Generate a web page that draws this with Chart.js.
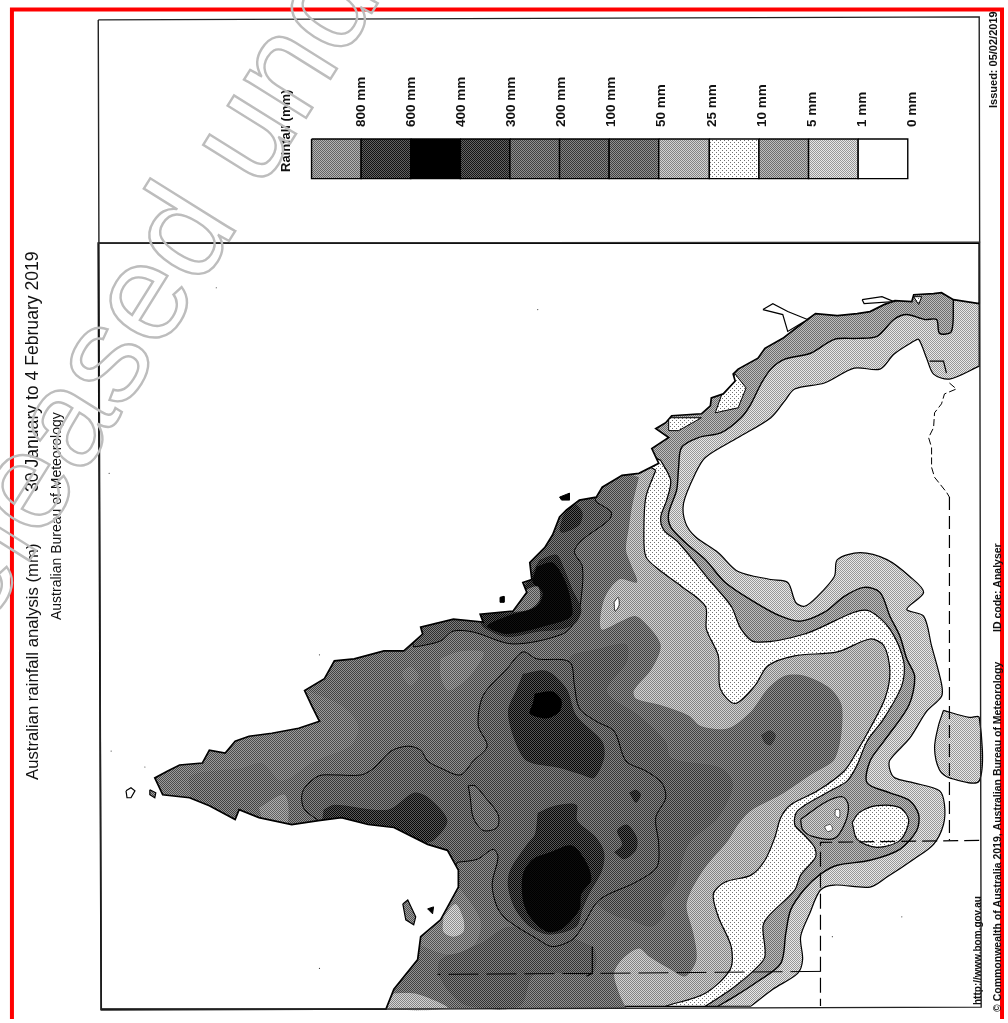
<!DOCTYPE html>
<html>
<head>
<meta charset="utf-8">
<title>Australian rainfall analysis</title>
<style>
  html, body { margin: 0; padding: 0; background: #fff; }
  canvas { display: block; }
</style>
<script src="https://cdn.jsdelivr.net/npm/chart.js@4"></script>
</head>
<body>
<canvas id="rainMap" width="1008" height="1023"></canvas>
<script>
// legend
const legendTicks = ['800 mm', '600 mm', '400 mm', '300 mm', '200 mm', '100 mm', '50 mm', '25 mm', '10 mm', '5 mm', '1 mm', '0 mm'];
const legendEdges = [310, 360, 410, 460, 510, 560, 610, 660, 711, 761, 811, 861, 911];
const legendGreys = [140, 58, 0, 60, 104, 94, 106, 172, 236, 149, 192, 255];

// coastline, read clockwise from the top right of the map
const coast = [[983,302],[970,300],[957,298],[945,291],[937,292],[917,293],[915,300],[898,299],[887,303],[873,310],[860,312],[840,314],[818,312],[807,320],[785,337],[767,347],[760,357],[740,368],[735,373],[737,380],[725,393],[713,397],[712,405],[703,413],[673,415],[667,422],[657,428],[670,437],[653,448],[660,463],[640,473],[623,475],[603,487],[597,497],[580,500],[567,510],[560,517],[553,535],[545,548],[530,563],[532,580],[523,583],[527,593],[513,612],[480,615],[483,623],[453,620],[420,628],[422,635],[403,652],[383,652],[353,660],[333,662],[323,680],[303,692],[310,707],[318,723],[297,730],[270,735],[247,738],[233,743],[223,755],[207,752],[200,765],[177,767],[165,773],[152,780],[160,797],[187,800],[207,808],[233,822],[237,812],[257,820],[290,827],[317,823],[340,820],[367,827],[393,830],[427,847],[447,853],[458,873],[458,890],[440,923],[420,940],[417,963],[393,993],[385,1013]];

// rainfall contours, outermost first
const edge1mm = [[753,1010],[775,993],[800,977],[805,963],[803,940],[812,917],[823,893],[837,888],[873,890],[890,880],[917,862],[937,847],[947,827],[948,807],[943,793],[917,785],[898,780],[893,772],[893,762],[913,740],[930,713],[945,698],[945,685],[935,647],[927,617],[910,610],[927,593],[913,577],[890,560],[863,553],[840,560],[837,577],[820,597],[807,607],[798,603],[790,583],[773,580],[740,572],[720,553],[697,537],[687,523],[685,503],[697,473],[707,457],[740,437],[773,417],[787,400],[797,388],[827,382],[857,367],[883,368],[897,353],[917,340],[922,338],[930,357],[937,373],[953,378],[983,365]];
const patch1mm = [[947,712],[973,719],[983,719],[983,783],[953,780],[943,772],[938,750],[942,727]];
const edge5mm = [[957,300],[955,330],[943,332],[940,318],[928,318],[910,313],[897,318],[880,335],[860,337],[837,338],[813,352],[787,358],[773,368],[763,383],[753,403],[743,417],[723,432],[700,437],[683,447],[680,467],[678,490],[670,513],[672,527],[687,543],[707,560],[727,583],[757,603],[783,617],[803,622],[827,613],[847,597],[867,588],[883,593],[893,617],[903,637],[910,660],[918,678],[912,707],[887,743],[873,763],[870,785],[893,795],[913,803],[922,817],[920,833],[903,852],[873,863],[840,868],[823,877],[807,892],[793,913],[788,937],[783,967],[760,985],[737,1000],[720,1010]];
const edge10mm = [[662,460],[672,480],[668,500],[662,517],[665,530],[680,543],[713,583],[733,607],[743,630],[757,643],[807,635],[857,613],[873,612],[893,630],[907,663],[905,687],[887,720],[870,743],[860,767],[850,783],[833,793],[800,813],[797,827],[807,838],[817,850],[818,860],[803,878],[797,893],[770,920],[765,930],[767,960],[757,973],[733,993],[707,1010]];
const edge25mm = [[657,470],[647,497],[645,533],[647,557],[660,570],[683,587],[707,607],[708,630],[720,657],[722,690],[737,705],[757,687],[770,667],[797,657],[840,653],[873,640],[887,647],[893,673],[888,700],[873,730],[860,753],[847,773],[820,793],[793,807],[783,820],[777,840],[767,863],[753,878],[727,885],[715,897],[720,920],[733,950],[732,973],[707,997],[667,1010]];
const edge50mm = [[640,477],[633,507],[630,527],[627,550],[632,565],[638,583],[620,580],[605,600],[602,630],[620,623],[637,617],[652,630],[662,647],[653,670],[635,692],[637,700],[663,707],[690,717],[703,728],[730,730],[753,713],[770,690],[787,677],[807,677],[833,690],[845,710],[838,760],[813,777],[783,797],[753,813],[740,827],[730,843],[707,870],[693,893],[688,910],[695,937],[698,963],[687,980],[672,973],[650,960],[640,952],[623,963],[615,977],[620,997],[627,1012]];
const edge100mm = [[597,650],[627,645],[628,663],[608,693],[640,717],[667,743],[673,760],[723,770],[735,787],[720,820],[690,847],[677,887],[663,907],[667,917],[653,930],[630,923],[618,920],[597,905],[570,800],[570,660]];
const south100mm = [[437,977],[440,963],[480,947],[510,930],[593,950],[593,977],[535,978],[520,1010],[468,1010],[448,995]];
const north200mm = [[597,502],[612,512],[610,520],[583,540],[575,552],[583,567],[582,597],[577,620],[563,635],[513,645],[473,633],[453,632],[440,642],[420,647],[413,648]];
const central200mm = [[457,865],[477,862],[493,852],[498,860],[492,887],[497,910],[507,923],[537,942],[553,950],[573,943],[583,930],[600,903],[637,885],[658,870],[660,847],[657,820],[667,800],[663,785],[647,773],[627,763],[615,733],[597,723],[580,710],[575,687],[570,663],[537,660],[523,653],[507,670],[483,697],[478,727],[487,748],[473,763],[460,777],[440,770],[427,763],[420,752],[407,748],[390,753],[373,770],[360,777],[333,777],[317,778],[303,790],[300,800],[303,812],[320,825]];
const oval100mm = [[468,788],[475,788],[483,797],[498,817],[497,830],[483,833],[473,820],[470,800]];
const capePatch = [[300,690],[340,707],[357,727],[350,747],[313,763],[280,783],[260,765],[240,770],[188,778],[187,800],[160,810],[140,790],[170,700]];
const capeLight = [[257,810],[283,797],[285,827],[263,826]];
const northPatchA = [[440,660],[457,653],[483,653],[480,663],[467,680],[448,692],[440,677]];
const northPatchB = [[402,672],[410,668],[418,677],[410,687],[402,678]];
const westPatch = [[455,885],[480,923],[475,947],[450,958],[423,950],[410,940]];
const westLight = [[443,920],[455,907],[463,922],[463,935],[453,940],[443,935]];
const southLight = [[393,997],[417,998],[447,1012],[385,1012]];

// wettest cores
const coastal300mm = [[540,560],[557,555],[565,570],[573,590],[582,610],[577,623],[563,630],[537,633],[507,638],[483,628],[480,617],[490,612],[512,613],[527,583]];
const coastal600mm = [[537,567],[553,563],[565,580],[572,603],[572,617],[553,625],[507,635],[487,627],[507,617],[537,607],[543,593],[533,583]];
const coastalGap = [[512,613],[523,593],[538,587],[540,600],[530,610]];
const cape300mm = [[563,517],[573,503],[583,512],[580,525],[563,533],[560,530]];
const upper300mm = [[523,675],[547,672],[567,690],[577,717],[603,743],[605,760],[595,780],[583,777],[560,770],[527,763],[515,743],[508,713],[517,690]];
const upper600mm = [[535,695],[553,693],[562,702],[560,713],[547,720],[530,715],[533,705]];
const lower300mm = [[538,815],[555,808],[577,807],[578,823],[597,840],[605,855],[603,873],[590,897],[583,913],[577,930],[550,938],[530,930],[515,912],[508,890],[510,873],[527,847],[535,837]];
const lower600mm = [[550,855],[572,848],[587,865],[592,883],[582,897],[580,913],[563,932],[547,935],[530,920],[523,903],[523,877],[533,862]];
const west300mm = [[322,812],[333,807],[387,812],[413,795],[428,800],[447,823],[433,843],[420,845],[390,835],[367,830],[340,825],[322,826]];
const spotA = [[615,855],[623,847],[618,833],[628,827],[638,840],[637,853],[625,862]];
const spotB = [[630,795],[637,792],[642,797],[637,805]];
const spotC = [[763,737],[772,732],[778,737],[773,747],[767,745]];

// dry lobes in the south
const lobeRing = [[803,822],[827,805],[845,799],[851,807],[848,825],[837,841],[815,839],[805,832]];
const lobeDotA = [[838,812],[842,812],[842,820],[838,818]];
const lobeDotB = [[827,829],[833,827],[835,832],[830,834]];
const southOval = [[855,825],[862,815],[880,808],[903,810],[912,823],[903,843],[880,850],[860,842]];
const innerDot = [[615,603],[619,598],[620,606],[616,612]];

// pale pockets on the north coast
const pocketA = [[737,373],[748,387],[740,407],[717,412],[723,395]];
const pocketB = [[670,417],[703,417],[680,430],[670,430]];
const pocketC = [[917,295],[925,295],[922,303]];
const pocketD = [[790,323],[810,318],[797,328]];

// islands
const islandsOpen = [
  [[123,793],[128,790],[132,793],[128,800],[124,800]],
  [[765,308],[775,302],[790,310],[810,318],[790,330],[785,313]],
  [[865,298],[885,295],[897,300],[867,302]]
];
const islandsGrey = [
  [[147,792],[153,795],[152,800],[147,797]],
  [[402,907],[407,903],[415,920],[413,928],[405,923]]
];
const islandsDark = [
  [[500,598],[504,597],[504,603],[500,603]],
  [[560,497],[570,493],[570,500],[562,500]],
  [[427,912],[433,910],[432,917]]
];

// state borders
const borderNorth = [[953,382],[960,388],[948,393],[945,403],[938,412],[937,427],[932,437],[935,447],[935,467],[938,477],[950,492],[953,497]];
const borderEast = [[953,497],[953,843]];
const borderSouth = [[983,843],[823,845],[823,1010]];
const borderWest = [[823,975],[600,977],[437,978]];
const shireLines = [
  [[933,360],[947,360],[950,372]],
  [[593,950],[593,977],[587,980]]
];
const specks = [[214,286],[538,308],[106,473],[108,753],[142,769],[318,972],[318,656],[905,920],[835,940]];

// sheet furniture
const frame = [[95,16],[98,1014],[985,1011],[983,13],[95,16]];
const divider = [[95,241],[984,240]];
const sheetEdge = [[8,1023],[8,5.5],[1006,5.5],[1006,1023]];

const sheetTexts = [
  { text: 'Australian rainfall analysis (mm)', x: 38, y: 780, font: '16.7px "Liberation Sans"' },
  { text: '30 January to 4 February 2019', x: 38, y: 492, font: '17.6px "Liberation Sans"' },
  { text: 'Australian Bureau of Meteorology', x: 61, y: 620, font: '14px "Liberation Sans"' },
  { text: 'Rainfall (mm)', x: 290, y: 172, font: 'bold 13px "Liberation Sans"' },
  { text: 'http://www.bom.gov.au', x: 981, y: 1005, font: 'bold 10px "Liberation Sans"' },
  { text: '© Commonwealth of Australia 2019, Australian Bureau of Meteorology', x: 1001, y: 1012, font: 'bold 10.5px "Liberation Sans"' },
  { text: 'ID code: Analyser', x: 1001, y: 632, font: 'bold 10.5px "Liberation Sans"' },
  { text: 'Issued: 05/02/2019', x: 997, y: 108, font: 'bold 11px "Liberation Sans"' }
];

// Fill with a fine two tone weave, the scan is halftoned
function halftone(grey) {
  if (grey >= 255) return '#ffffff';
  if (grey <= 0) return '#000000';
  const cell = document.createElement('canvas');
  cell.width = 4;
  cell.height = 4;
  const c = cell.getContext('2d');
  if (grey > 215) {
    // nearly white levels are white with sparse dots
    c.fillStyle = '#ffffff';
    c.fillRect(0, 0, 4, 4);
    c.fillStyle = '#707070';
    c.fillRect(0, 0, 1, 1);
    c.fillRect(2, 2, 1, 1);
  } else {
    const spread = Math.min(40, grey);
    for (let i = 0; i < 16; i++) {
      const v = (i % 4 + Math.floor(i / 4)) % 2 ? grey + spread : grey - spread;
      c.fillStyle = 'rgb(' + v + ',' + v + ',' + v + ')';
      c.fillRect(i % 4, Math.floor(i / 4), 1, 1);
    }
  }
  return c.createPattern(cell, 'repeat');
}

function toPoints(list) {
  return list.map(p => ({ x: p[0], y: p[1] }));
}

// a contour closed through the sea: repeated corners keep the curve from swinging out
function throughSea(edge, corners) {
  const last = edge[edge.length - 1];
  return [...edge, last, ...corners.flatMap(p => [p, p]), edge[0]];
}

const datasets = [];

// one filled shape; later shapes paint over earlier ones
function addShape(list, grey, outline, smooth) {
  datasets.push({
    type: 'scatter',
    data: toPoints([...list, list[0]]),
    showLine: true,
    fill: 'shape',
    backgroundColor: halftone(grey),
    borderColor: '#000000',
    borderWidth: outline,
    tension: smooth ? 0.3 : 0,
    pointRadius: 0
  });
}

function addLine(list, width, colour, dash) {
  datasets.push({
    type: 'scatter',
    data: toPoints(list),
    showLine: true,
    fill: false,
    borderColor: colour,
    borderWidth: width,
    borderDash: dash || [],
    tension: 0,
    pointRadius: 0
  });
}

// bands close through the sea, the sea shape below hides that part
addShape(throughSea(edge1mm, [[983,302], [957,250], [100,250], [100,1012]]), 192, 1.2, true);
addShape(patch1mm, 192, 1.2, true);
addShape(throughSea(edge5mm, [[100,1012], [100,250], [957,250]]), 149, 1.4, true);
addShape(pocketA, 236, 1, false);
addShape(pocketB, 236, 1, false);
addShape(pocketC, 236, 1, false);
addShape(pocketD, 236, 1, false);
addShape(throughSea(edge10mm, [[100,1012], [100,450], [640,450]]), 236, 1.2, true);
addShape(throughSea(edge25mm, [[100,1012], [100,460], [640,460]]), 172, 1.2, true);
addShape(throughSea(edge50mm, [[100,1012], [100,470], [620,470]]), 106, 0, true);
addShape(edge100mm, 92, 0, true);
addShape(south100mm, 90, 0, true);
addShape(capePatch, 116, 0, true);
addShape(capeLight, 136, 0, true);
addShape(northPatchA, 124, 0, true);
addShape(northPatchB, 118, 0, true);
addShape(westPatch, 122, 0, true);
addShape(westLight, 182, 0, true);
addShape(southLight, 172, 0, true);
addShape(throughSea(north200mm, [[400,600], [590,480]]), 86, 1, true);
addShape(throughSea(central200mm, [[320,860], [440,900]]), 94, 1, true);
addShape(oval100mm, 106, 1, true);
addShape(coastal300mm, 44, 0, true);
addShape(coastal600mm, 8, 0, true);
addShape(coastalGap, 116, 0, true);
addShape(innerDot, 255, 0.8, true);
addShape(cape300mm, 46, 0, true);
addShape(upper300mm, 46, 0, true);
addShape(upper600mm, 0, 0, true);
addShape(lower300mm, 46, 0, true);
addShape(lower600mm, 6, 0, true);
addShape(west300mm, 48, 0, true);
addShape(spotA, 44, 0, true);
addShape(spotB, 44, 0, true);
addShape(spotC, 66, 0, true);
addShape(lobeRing, 172, 1.2, true);
addShape(lobeDotA, 255, 0.6, true);
addShape(lobeDotB, 255, 0.6, true);
addShape(southOval, 236, 1.2, true);

// the sea and the coast line on top of the bands
addShape([...coast, [98,1013], [95,241], [983,241]], 255, 1.7, false);
islandsOpen.forEach(i => addShape(i, 255, 1.2, false));
islandsGrey.forEach(i => addShape(i, 120, 1.2, false));
islandsDark.forEach(i => addShape(i, 0, 1, false));

addLine(borderNorth, 1, '#000000', [7, 3]);
addLine(borderEast, 1.2, '#000000', [13, 6]);
addLine(borderSouth, 1.2, '#000000', [15, 6]);
addLine(borderWest, 1, '#000000', [30, 8]);
shireLines.forEach(l => addLine(l, 1.2, '#000000'));
datasets.push({
  type: 'scatter',
  data: toPoints(specks),
  pointRadius: 0.6,
  backgroundColor: '#444444',
  borderWidth: 0
});

// legend boxes
legendGreys.forEach((grey, i) => {
  const a = legendEdges[i];
  const b = legendEdges[i + 1];
  addShape([[a,136],[b,136],[b,176],[a,176]], grey, 1.4, false);
});

addLine(frame, 1.4, '#222222');
addLine(divider, 1.2, '#333333');
addLine(sheetEdge, 4, '#ff0000');

// datasets are painted by order, highest first
datasets.forEach((d, i) => { d.order = datasets.length - i; });

// rotated sheet text and the release stamp across the top left corner
const sheetTextPlugin = {
  id: 'sheetText',
  afterDatasetsDraw(chart) {
    const c = chart.ctx;
    c.save();
    c.fillStyle = '#111111';
    c.textAlign = 'left';
    c.textBaseline = 'alphabetic';
    sheetTexts.forEach(t => {
      c.save();
      c.translate(t.x, t.y);
      c.rotate(-Math.PI / 2);
      c.font = t.font;
      c.fillText(t.text, 0, 0);
      c.restore();
    });
    legendTicks.forEach((label, i) => {
      c.save();
      c.translate(legendEdges[i + 1] + 5, 127);
      c.rotate(-Math.PI / 2);
      c.font = 'bold 13.5px "Liberation Sans"';
      c.fillText(label, 0, 0);
      c.restore();
    });
    c.translate(-69, 718);
    c.rotate(-58 * Math.PI / 180);
    c.font = '138px "Liberation Sans"';
    c.strokeStyle = '#bdbdbd';
    c.lineWidth = 2.4;
    c.strokeText('Released under', 0, 0);
    c.restore();
  }
};

new Chart(document.getElementById('rainMap').getContext('2d'), {
  data: { datasets },
  plugins: [sheetTextPlugin],
  options: {
    responsive: false,
    animation: false,
    devicePixelRatio: 1,
    layout: { padding: 0 },
    plugins: {
      legend: { display: false },
      title: { display: false },
      tooltip: { enabled: false },
      filler: { propagate: false }
    },
    scales: {
      x: { type: 'linear', min: 0, max: 1008, display: false },
      y: { type: 'linear', min: 0, max: 1023, reverse: true, display: false }
    }
  }
});
</script>
</body>
</html>
